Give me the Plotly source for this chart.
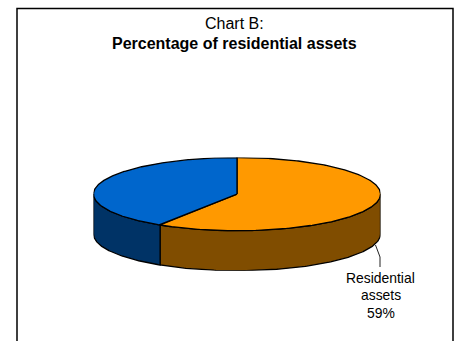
import numpy as np
import plotly.graph_objects as go

# Shares of the pie, clockwise from twelve o'clock
categories = ["Residential assets", "Other assets"]
shares = [59, 41]
top_colors = ["#FF9900", "#0066CC"]
wall_colors = ["#804D00", "#003366"]

WIDTH, HEIGHT = 460, 341
FONT = "Liberation Sans, Arial, sans-serif"
TILT = 36.6 / 143.5     # vertical squash of the disc
DEPTH = 40 / 143.5      # wall height, in radii


def rim(deg, drop=0.0):
    """Points on the disc edge; angles run clockwise from the top."""
    t = np.radians(deg)
    return np.sin(t), TILT * np.cos(t) - drop


fractions = np.array(shares) / sum(shares)
edges = np.concatenate([[0], np.cumsum(fractions) * 360])

fig = go.Figure()

# Side walls: only the front half of the disc (90 to 270 degrees) shows
for i, name in enumerate(categories):
    a, b = max(edges[i], 90), min(edges[i + 1], 270)
    if a >= b:
        continue
    deg = np.linspace(a, b, 160)
    x1, y1 = rim(deg)
    x2, y2 = rim(deg[::-1], DEPTH)
    fig.add_trace(go.Scatter(
        x=np.r_[x1, x2, x1[0]], y=np.r_[y1, y2, y1[0]],
        mode="lines", fill="toself", fillcolor=wall_colors[i],
        line=dict(color="#000000", width=1.3), hoverinfo="skip", showlegend=False,
    ))

# Top face slices, from the centre out to the rim
for i, name in enumerate(categories):
    deg = np.linspace(edges[i], edges[i + 1], 320)
    x1, y1 = rim(deg)
    fig.add_trace(go.Scatter(
        x=np.r_[0, x1, 0], y=np.r_[0, y1, 0],
        mode="lines", fill="toself", fillcolor=top_colors[i],
        line=dict(color="#000000", width=1.3), name=name, showlegend=False,
    ))

# Leader running from the front wall to the slice label
fig.add_shape(type="path", xref="paper", yref="paper",
              path="M %.4f %.4f L %.4f %.4f L %.4f %.4f" % (
                  375.5 / WIDTH, 1 - 245 / HEIGHT,
                  380 / WIDTH, 1 - 257 / HEIGHT,
                  380 / WIDTH, 1 - 267 / HEIGHT),
              line=dict(color="#222222", width=1))

# Chart frame; it runs off the bottom of the page
fig.add_shape(type="rect", xref="paper", yref="paper",
              x0=17 / WIDTH, x1=453 / WIDTH, y0=-0.1, y1=1 - 8.5 / HEIGHT,
              line=dict(color="#000000", width=1.5), fillcolor="rgba(0,0,0,0)")

# Two title lines, set apart so their spacing can be tighter than the default
fig.add_annotation(
    text="Chart B:",
    xref="paper", yref="paper", x=234.5 / WIDTH, y=1 - 23.5 / HEIGHT,
    xanchor="center", yanchor="middle", showarrow=False,
    font=dict(family=FONT, size=16, color="#000000"),
)
fig.add_annotation(
    text="<b>Percentage of residential assets</b>",
    xref="paper", yref="paper", x=234.5 / WIDTH, y=1 - 43 / HEIGHT,
    xanchor="center", yanchor="middle", showarrow=False,
    font=dict(family=FONT, size=16, color="#000000"),
)
label_lines = ["Residential", "assets", "%d%%" % shares[0]]
for line, centre in zip(label_lines, [278, 295.3, 312.6]):
    fig.add_annotation(
        text=line,
        xref="paper", yref="paper", x=380.5 / WIDTH, y=1 - centre / HEIGHT,
        xanchor="center", yanchor="middle", showarrow=False,
        font=dict(family=FONT, size=13.9, color="#000000"),
    )

fig.update_layout(
    width=WIDTH, height=HEIGHT, margin=dict(l=0, r=0, t=0, b=0),
    paper_bgcolor="#FFFFFF", plot_bgcolor="#FFFFFF", showlegend=False,
    xaxis=dict(domain=[93.5 / WIDTH, 380.5 / WIDTH], range=[-1, 1], visible=False, fixedrange=True),
    yaxis=dict(domain=[1 - 270.7 / HEIGHT, 1 - 157.5 / HEIGHT],
               range=[-TILT - DEPTH, TILT], visible=False, fixedrange=True),
)
fig.update_traces(cliponaxis=False)

fig.write_html("out.html", config=dict(displayModeBar=False))
